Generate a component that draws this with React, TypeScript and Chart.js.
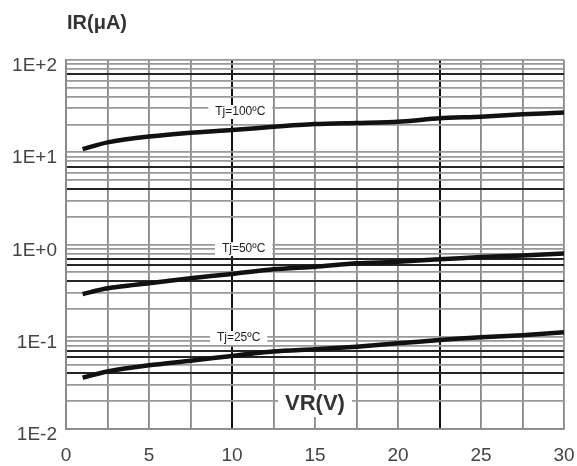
import React, { useEffect, useRef } from "react";
import { Chart, registerables } from "chart.js";

Chart.register(...registerables);

// Data
const vr = [1, 2.5, 5, 7.5, 10, 12.5, 15, 17.5, 20, 22.5, 25, 27.5, 30];
const ir100 = [10.8, 12.8, 14.8, 16.3, 17.4, 18.9, 20.2, 20.8, 21.4, 23.3, 24.3, 25.8, 26.9];
const ir50 = [0.29, 0.335, 0.38, 0.43, 0.48, 0.54, 0.575, 0.625, 0.65, 0.69, 0.73, 0.76, 0.8];
const ir25 = [0.036, 0.042, 0.049, 0.055, 0.062, 0.069, 0.073, 0.078, 0.085, 0.092, 0.099, 0.104, 0.112];

const seriesNames = ["Tj=100ºC", "Tj=50ºC", "Tj=25ºC"];
const tagX = [10.5, 10.7, 10.4];
const tagY = [27.3, 0.89, 0.097];

const xTickLabels = ["0", "5", "10", "15", "20", "25", "30"];
const thickX = [10, 22.5];

const FONT = "'Liberation Sans', Arial, sans-serif";

function mantissaOf(v: number) {
  const e = Math.floor(Math.log10(v) + 1e-9);
  return { m: Math.round(v / Math.pow(10, e)), e };
}

function isThickY(v: number) {
  const { m, e } = mantissaOf(v);
  if (m === 1) return false;
  if (e === 1) return m === 7;
  if (e === 0) return m === 7 || m === 4;
  return m === 7 || m === 6 || m === 4;
}

export default function App() {
  const ref = useRef<HTMLCanvasElement | null>(null);
  useEffect(() => {
    const canvas = ref.current;
    if (!canvas) return;
    const overlay = {
      id: "overlay",
      afterDatasetsDraw(chart: any) {
        const { ctx, scales } = chart;
        const xs = scales.x;
        const ys = scales.y;
        ctx.save();
        ctx.font = `12px ${FONT}`;
        ctx.textAlign = "center";
        ctx.textBaseline = "middle";
        seriesNames.forEach((name, i) => {
          const px = xs.getPixelForValue(tagX[i]);
          const py = ys.getPixelForValue(tagY[i]);
          const w = ctx.measureText(name).width + 14;
          ctx.fillStyle = "#ffffff";
          ctx.fillRect(px - w / 2, py - 7, w, 14);
          ctx.fillStyle = "#222222";
          ctx.fillText(name, px, py);
        });
        ctx.font = `bold 22px ${FONT}`;
        const vx = xs.getPixelForValue(15);
        const vy = ys.getPixelForValue(0.0191);
        const vw = ctx.measureText("VR(V)").width + 14;
        ctx.fillStyle = "#ffffff";
        ctx.fillRect(vx - vw / 2, vy - 13, vw, 27);
        ctx.fillStyle = "#333333";
        ctx.fillText("VR(V)", vx, vy + 1);
        ctx.font = `bold 20px ${FONT}`;
        ctx.textAlign = "left";
        ctx.fillText("IR(μA)", 67, 23);
        ctx.restore();
      },
    };

    const mk = (vals: number[]) => vr.map((x, i) => ({ x, y: vals[i] }));
    const ds = (label: string, vals: number[]) => ({
      label,
      data: mk(vals),
      borderColor: "#111111",
      backgroundColor: "#111111",
      borderWidth: 4.5,
      pointRadius: 0,
      tension: 0.25,
    });

    const chart = new Chart(canvas, {
      type: "line",
      data: {
        datasets: [ds(seriesNames[0], ir100), ds(seriesNames[1], ir50), ds(seriesNames[2], ir25)],
      },
      plugins: [overlay],
      options: {
        animation: false,
        responsive: false,
        layout: { padding: { left: 0, right: 13, top: 60, bottom: 0 } },
        plugins: { legend: { display: false }, tooltip: { enabled: false }, title: { display: false } },
        scales: {
          x: {
            type: "linear",
            min: 0,
            max: 30,
            afterFit: (s: any) => {
              s.height = 37;
              s.paddingLeft = 0;
              s.paddingRight = 0;
            },
            afterBuildTicks: (s: any) => {
              const t = [];
              for (let i = 0; i <= 12; i++) t.push({ value: i * 2.5 });
              s.ticks = t;
            },
            ticks: {
              autoSkip: false,
              maxRotation: 0,
              padding: 15,
              color: "#444444",
              font: { family: FONT, size: 19 },
              callback: (v: any) => {
                const n = Number(v);
                return n % 5 === 0 ? xTickLabels[n / 5] : "";
              },
            },
            grid: {
              drawTicks: false,
              color: (c: any) => (thickX.includes(c.tick?.value) ? "#111111" : "#888888"),
              lineWidth: (c: any) => (thickX.includes(c.tick?.value) ? 2 : 1.8),
            },
            border: { display: true, color: "#888888", width: 1.8 },
          },
          y: {
            type: "logarithmic",
            min: 0.01,
            max: 100,
            afterFit: (s: any) => {
              s.width = 66;
              s.paddingTop = 0;
              s.paddingBottom = 0;
            },
            afterBuildTicks: (s: any) => {
              const t = [];
              for (let e = -2; e <= 1; e++) {
                for (let m = 1; m <= 9; m++) t.push({ value: Number((m * Math.pow(10, e)).toPrecision(3)) });
              }
              t.push({ value: 100 });
              s.ticks = t;
            },
            ticks: {
              autoSkip: false,
              padding: 9,
              labelOffset: 6,
              color: "#444444",
              font: { family: FONT, size: 19 },
              callback: (v: any) => {
                const { m, e } = mantissaOf(Number(v));
                if (m !== 1) return "";
                return `1E${e >= 0 ? "+" : ""}${e}`;
              },
            },
            grid: {
              drawTicks: false,
              color: (c: any) => {
                const v = c.tick?.value;
                if (!v) return "#999999";
                return isThickY(v) ? "#262626" : "#999999";
              },
              lineWidth: (c: any) => {
                const v = c.tick?.value;
                if (!v) return 1.8;
                return isThickY(v) ? 2 : 1.8;
              },
            },
            border: { display: true, color: "#888888", width: 1.8 },
          },
        },
      },
    } as any);
    return () => chart.destroy();
  }, []);

  return (
    <div style={{ position: "fixed", left: 0, top: 0, width: 577, height: 466, background: "#fff" }}>
      <canvas ref={ref} width={577} height={466} style={{ display: "block" }} />
    </div>
  );
}
